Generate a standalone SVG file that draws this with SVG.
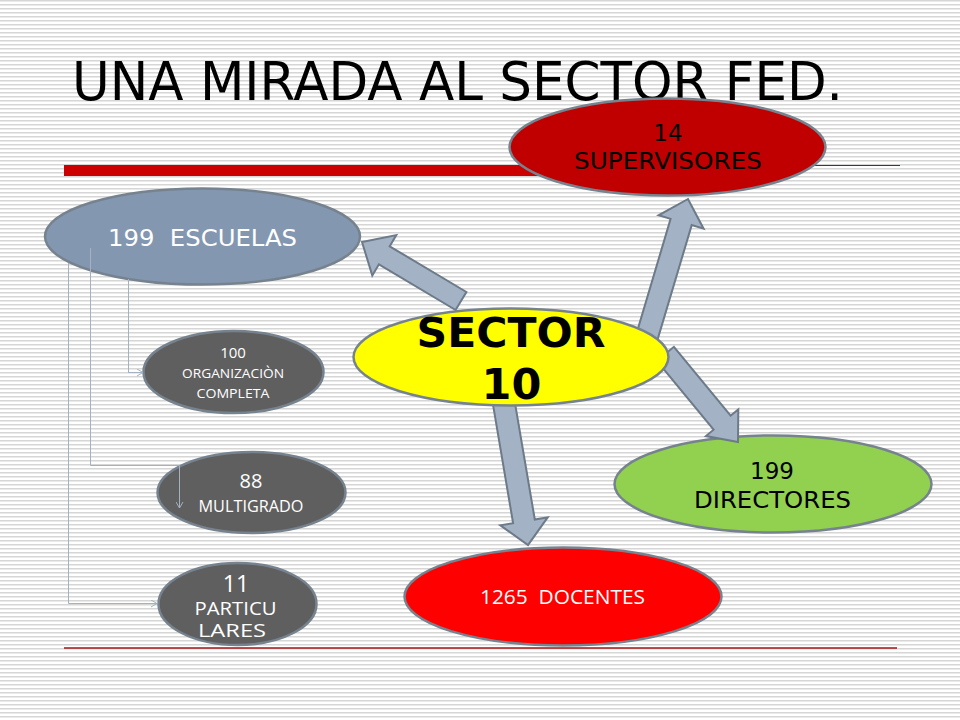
<svg xmlns="http://www.w3.org/2000/svg" width="960" height="720" viewBox="0 0 960 720">
<defs>
<pattern id="stripes" x="0" y="0" width="8" height="4" patternUnits="userSpaceOnUse">
<rect x="0" y="0" width="8" height="1.5" fill="#d6d6d6"/>
</pattern>
<marker id="open" markerWidth="8" markerHeight="8" refX="6" refY="4" orient="auto" markerUnits="userSpaceOnUse">
<path d="M0,0.5 L6,4 L0,7.5" fill="none" stroke="#a3b1c2" stroke-width="1"/>
</marker>
</defs>
<style>
.ell{stroke:#76838f;stroke-width:2.5}
.blk{fill:#a3b2c4;stroke:#6c7a89;stroke-width:2;stroke-linejoin:miter}
.con{fill:none;stroke:#a3b1c2;stroke-width:1}
.dv{font-family:"DejaVu Sans","Liberation Sans",sans-serif;text-anchor:middle}
.os{font-family:"Open Sans","Liberation Sans",sans-serif;text-anchor:middle}
</style>
<rect width="960" height="720" fill="#ffffff"/>
<rect width="960" height="720" fill="url(#stripes)"/>
<g id="title">
<text x="72" y="100" font-family="DejaVu Sans, Liberation Sans, sans-serif" font-size="53" textLength="771" lengthAdjust="spacingAndGlyphs" fill="#000">UNA MIRADA AL SECTOR FED.</text>
</g>
<g id="rules">
<rect x="64" y="165" width="540" height="11" fill="#cc0000"/>
<line x1="600" y1="165.5" x2="900" y2="165.5" stroke="#c00000" stroke-width="1.2"/>
<line x1="64" y1="648" x2="897" y2="648" stroke="#a51515" stroke-width="1.5"/>
</g>
<g id="supervisores">
<ellipse class="ell" cx="667.5" cy="147" rx="158" ry="48.5" fill="#c00000"/>
<text class="dv" x="668" y="141" font-size="23" fill="#000">14</text>
<text class="dv" x="668" y="169" font-size="23" textLength="188" lengthAdjust="spacingAndGlyphs" fill="#000">SUPERVISORES</text>
</g>
<g id="escuelas">
<ellipse class="ell" cx="202.5" cy="236.5" rx="157.5" ry="48" fill="#8497b0"/>
<text class="dv" x="202.5" y="246" font-size="23" textLength="189" lengthAdjust="spacingAndGlyphs" fill="#fff" xml:space="preserve">199  ESCUELAS</text>
</g>
<g id="directores">
<ellipse class="ell" cx="773" cy="484" rx="158.5" ry="48.5" fill="#92d050"/>
<text class="dv" x="772" y="479" font-size="23" fill="#000">199</text>
<text class="dv" x="772.5" y="508" font-size="23" textLength="157" lengthAdjust="spacingAndGlyphs" fill="#000">DIRECTORES</text>
</g>
<g id="docentes">
<ellipse class="ell" cx="563" cy="596.5" rx="158.5" ry="49" fill="#ff0000"/>
<text class="os" x="562.5" y="604" font-size="20.5" textLength="165" lengthAdjust="spacingAndGlyphs" fill="#fff" xml:space="preserve">1265  DOCENTES</text>
</g>
<g id="organizacion">
<ellipse class="ell" cx="233.5" cy="372" rx="90" ry="41" fill="#5f5f5f"/>
<text class="os" x="233" y="358" font-size="15" fill="#fff">100</text>
<text class="os" x="233" y="378" font-size="13" textLength="102" lengthAdjust="spacingAndGlyphs" fill="#fff">ORGANIZACIÒN</text>
<text class="os" x="233" y="398" font-size="13" textLength="73" lengthAdjust="spacingAndGlyphs" fill="#fff">COMPLETA</text>
</g>
<g id="multigrado">
<ellipse class="ell" cx="251.5" cy="492.5" rx="94" ry="40.5" fill="#5f5f5f"/>
<text class="os" x="251" y="488" font-size="20" fill="#fff">88</text>
<text class="os" x="251" y="512" font-size="16" textLength="105" lengthAdjust="spacingAndGlyphs" fill="#fff">MULTIGRADO</text>
</g>
<g id="particulares">
<ellipse class="ell" cx="237.5" cy="604" rx="79" ry="41" fill="#5f5f5f"/>
<text class="os" x="236" y="592" font-size="23" fill="#fff">11</text>
<text class="os" x="235.5" y="615" font-size="18" textLength="82" lengthAdjust="spacingAndGlyphs" fill="#fff">PARTICU</text>
<text class="os" x="232" y="637" font-size="18" textLength="68" lengthAdjust="spacingAndGlyphs" fill="#fff">LARES</text>
</g>
<g id="connectors">
<polygon class="blk" points="466.4,292 389.7,246.3 396.3,235.1 362,242 372.3,275.5 378.9,264.3 455.6,310"/>
<polygon class="blk" points="656.5,343.1 691.7,225.1 703.6,228.7 688,199 658.6,215.3 670.6,218.9 635.5,336.9"/>
<polygon class="blk" points="673.9,346.8 730.6,415.7 738.3,409.4 738,442 705.9,436.1 713.6,429.7 656.9,360.8"/>
<polygon class="blk" points="513.8,396.2 534.8,519.5 547.7,517.3 528,545 500.3,525.3 513.1,523.2 492.2,399.8"/>
<path class="con" d="M128.5,279 V372.5 H143" marker-end="url(#open)"/>
<path class="con" d="M90.5,248 V465.5 H179.5 V508" marker-end="url(#open)"/>
<path class="con" d="M68.5,263 V603.5 H157" marker-end="url(#open)"/>
</g>
<g id="sector10">
<ellipse class="ell" cx="511" cy="357" rx="157.5" ry="48.5" fill="#ffff00"/>
<text class="dv" x="511" y="347" font-size="41" font-weight="bold" textLength="189" lengthAdjust="spacingAndGlyphs" fill="#000">SECTOR</text>
<text class="dv" x="511.5" y="399" font-size="43" font-weight="bold" fill="#000">10</text>
</g>
</svg>
